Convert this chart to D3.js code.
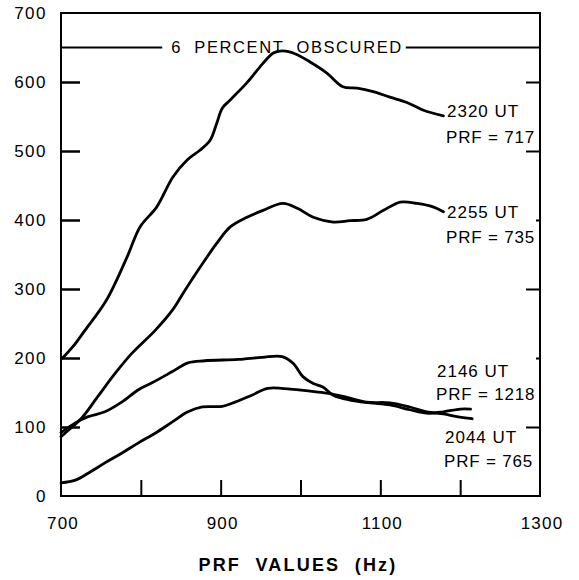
<!DOCTYPE html>
<html>
<head>
<meta charset="utf-8">
<script src="https://cdn.jsdelivr.net/npm/d3@7"></script>
<style>
  html, body { margin: 0; padding: 0; background: #fff; }
  text { font-family: "Liberation Sans", Arial, Helvetica, sans-serif; fill: #000; }
</style>
</head>
<body>
<svg id="chart" width="579" height="580"></svg>
<script>
// ---- data ----
const xTicksMajor = [700, 900, 1100, 1300];
const xTicksMinor = [800, 900, 1000, 1100, 1200];
const yTicks = [0, 100, 200, 300, 400, 500, 600, 700];
const obscuredLevel = 650;
const obscuredLabel = "6  PERCENT  OBSCURED";
const xTitle = "PRF  VALUES  (Hz)";

const s2320x = [702, 718, 730, 757, 783, 799, 820, 840, 858, 874, 887, 895, 902, 912, 933, 953, 966, 978, 993, 1012, 1033, 1053, 1071, 1091, 1112, 1134, 1154, 1179];
const s2320y = [200, 221, 240, 284, 347, 390, 419, 462, 487, 501, 516, 540, 562, 574, 599, 627, 642, 645, 641, 629, 613, 593, 591, 586, 578, 570, 559, 551];

const s2255x = [700, 706, 726, 746, 768, 789, 818, 840, 853, 878, 895, 912, 933, 953, 978, 996, 1016, 1041, 1062, 1083, 1104, 1125, 1146, 1166, 1179];
const s2255y = [86, 92, 113, 144, 178, 207, 240, 270, 294, 338, 366, 390, 404, 414, 424, 417, 404, 397, 399, 401, 414, 426, 424, 419, 412];

const s2146x = [700, 718, 734, 755, 776, 797, 814, 839, 859, 880, 922, 952, 977, 991, 1003, 1016, 1028, 1041, 1062, 1087, 1112, 1137, 1158, 1179, 1200, 1213];
const s2146y = [92, 106, 115, 122, 136, 154, 164, 180, 193, 196, 198, 201, 202, 192, 173, 163, 158, 146, 139, 135, 132, 125, 120, 122, 126, 126];

const s2044x = [700, 718, 734, 755, 776, 797, 818, 839, 859, 877, 902, 918, 939, 959, 987, 1012, 1033, 1058, 1083, 1112, 1137, 1158, 1179, 1196, 1215];
const s2044y = [19, 23, 33, 48, 62, 77, 91, 107, 122, 129, 130, 136, 146, 156, 155, 152, 149, 143, 136, 135, 129, 122, 119, 115, 112];

const seriesNames = ["2320 UT", "2255 UT", "2146 UT", "2044 UT"];
const seriesPRF = ["PRF = 717", "PRF = 735", "PRF = 1218", "PRF = 765"];

// ---- layout ----
const svg = d3.select("#chart");
const L = 61, R = 540, T = 13, B = 496;
const x = d3.scaleLinear().domain([700, 1300]).range([L, R]);
const y = d3.scaleLinear().domain([0, 700]).range([B, T]);

const series = [
  {xs: s2320x, ys: s2320y},
  {xs: s2255x, ys: s2255y},
  {xs: s2146x, ys: s2146y},
  {xs: s2044x, ys: s2044y}
];

// frame
svg.append("rect").attr("x", L).attr("y", T).attr("width", R - L).attr("height", B - T)
  .attr("fill", "none").attr("stroke", "#000").attr("stroke-width", 2);

// left axis ticks (inward)
const leftAxis = d3.axisRight(y).tickValues(yTicks.filter(v => v > 0 && v < 700)).tickSize(19).tickFormat("");
const gl = svg.append("g").attr("transform", `translate(${L},0)`).call(leftAxis);
gl.select(".domain").remove();
gl.selectAll("line").attr("stroke", "#000").attr("stroke-width", 2.5);

// left tick labels
svg.append("g").selectAll("text").data(yTicks).join("text")
  .attr("x", 47).attr("y", d => y(d) + 6)
  .attr("text-anchor", "end").attr("font-size", 17).attr("letter-spacing", 1.5)
  .text(d => d);

// right axis ticks (inward)
const rightAxis = d3.axisLeft(y).tickValues([100, 300, 500, 600]).tickSize(14).tickFormat("");
const gr = svg.append("g").attr("transform", `translate(${R},0)`).call(rightAxis);
gr.select(".domain").remove();
gr.selectAll("line").attr("stroke", "#000").attr("stroke-width", 2);
const rightAxisSmall = d3.axisLeft(y).tickValues([200, 400]).tickSize(4).tickFormat("");
const gr2 = svg.append("g").attr("transform", `translate(${R},0)`).call(rightAxisSmall);
gr2.select(".domain").remove();
gr2.selectAll("line").attr("stroke", "#000").attr("stroke-width", 2);

// bottom ticks (inward)
const bottomAxis = d3.axisTop(x).tickValues(xTicksMinor).tickSize(16).tickFormat("");
const gb = svg.append("g").attr("transform", `translate(0,${B})`).call(bottomAxis);
gb.select(".domain").remove();
gb.selectAll("line").attr("stroke", "#000").attr("stroke-width", 2);

// bottom labels
svg.append("g").selectAll("text").data(xTicksMajor).join("text")
  .attr("x", d => x(d) + 2).attr("y", 529)
  .attr("text-anchor", "middle").attr("font-size", 17).attr("letter-spacing", 1.2)
  .text(d => d);

// axis title
svg.append("text").attr("x", 298).attr("y", 571)
  .attr("text-anchor", "middle").attr("font-size", 18).attr("font-weight", "bold")
  .attr("letter-spacing", 2.2)
  .style("white-space", "pre")
  .text(xTitle);

// obscured line with label
const oy = y(obscuredLevel);
const ot = svg.append("text").attr("x", 287).attr("y", oy + 5)
  .attr("text-anchor", "middle").attr("font-size", 16.5).attr("letter-spacing", 1.6)
  .style("white-space", "pre")
  .text(obscuredLabel);
const bb = ot.node().getBBox();
svg.append("line").attr("x1", L).attr("x2", bb.x - 9).attr("y1", oy).attr("y2", oy)
  .attr("stroke", "#000").attr("stroke-width", 2);
svg.append("line").attr("x1", bb.x + bb.width + 3).attr("x2", R).attr("y1", oy).attr("y2", oy)
  .attr("stroke", "#000").attr("stroke-width", 2);

// curves
const line = d3.line().x(d => x(d[0])).y(d => y(d[1])).curve(d3.curveCatmullRom.alpha(0.5));
svg.append("g").selectAll("path").data(series).join("path")
  .attr("d", s => line(s.xs.map((v, i) => [v, s.ys[i]])))
  .attr("fill", "none").attr("stroke", "#000").attr("stroke-width", 2.8)
  .attr("stroke-linejoin", "round").attr("stroke-linecap", "round");

// curve labels
const labelPos = [
  {x: 447, y1: 117, y2: 143},
  {x: 447, y1: 218, y2: 243},
  {x: 437, y1: 377, y2: 400},
  {x: 445, y1: 443, y2: 467}
];
const lg = svg.append("g");
seriesNames.forEach((n, i) => {
  lg.append("text").attr("x", labelPos[i].x).attr("y", labelPos[i].y1)
    .attr("font-size", 17).attr("letter-spacing", 1).text(n);
  lg.append("text").attr("x", labelPos[i].x - 1).attr("y", labelPos[i].y2)
    .attr("font-size", 17).attr("letter-spacing", 0.8).text(seriesPRF[i]);
});
</script>
</body>
</html>
